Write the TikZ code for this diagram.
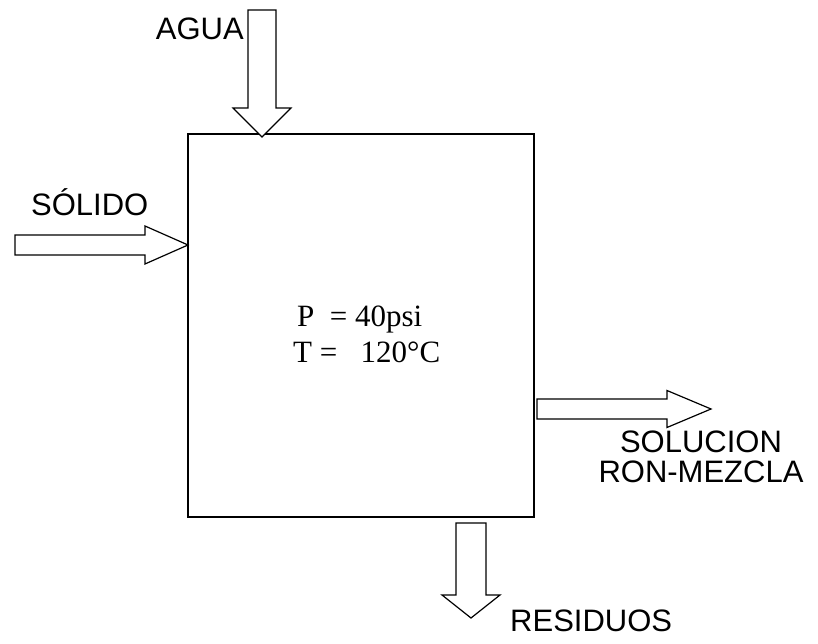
\documentclass[tikz,border=0pt]{standalone}
\usepackage{fontspec}
\setmainfont{Liberation Serif}
\setsansfont{Liberation Sans}
\usepackage{tikz}
\usetikzlibrary{calc}
\tikzstyle{box}=[draw,line width=1.2pt,minimum width=346pt,minimum height=383pt,inner sep=0pt]
\tikzstyle{flow}=[draw,line width=1.2pt,fill=white,line join=miter]
\tikzstyle{label}=[font=\sffamily\fontsize{31}{30}\selectfont,inner sep=0pt]
\tikzstyle{cond}=[font=\rmfamily\fontsize{31}{30}\selectfont,inner sep=0pt]

\begin{document}
\begin{tikzpicture}[x=1pt,y=1pt]
\useasboundingbox (0,0) rectangle (818,644);

% reactor
\node[box] (reactor) at (361,318.5) {};

% streams: tail / direction / length / head length / shaft half / head half
\foreach \name/\x/\y/\ang/\len/\hl/\sw/\hw in {agua/262/634/-90/127/29/14/29, solido/15/399/0/173/43/10/19, solucion/537/235/0/174/44/10/18.5, residuos/471/121/-90/95/23/15/29}
{
  \begin{scope}[shift={(\x,\y)},rotate=\ang]
    \path[flow] (0,-\sw) -- (\len-\hl,-\sw) -- (\len-\hl,-\hw) -- (\len,0) -- (\len-\hl,\hw) -- (\len-\hl,\sw) -- (0,\sw) -- cycle;
  \end{scope}
}

% Labels
\node[label,anchor=base east] (lagua) at (244,604) {AGUA};
\node[label,anchor=base west] (lsolido) at (31,428) {SÓLIDO};
\node[label,align=center] (lsolucion) at (701,187) {SOLUCION\\RON-MEZCLA};
\node[label,anchor=base west] (lresiduos) at (510,12) {RESIDUOS};

% conditions
\node[cond,anchor=base west] (pres) at (297,317) {P~~=~40psi};
\node[cond,anchor=base west] (temp) at (293,281) {T~=~~~120°C};

\end{tikzpicture}
\end{document}
